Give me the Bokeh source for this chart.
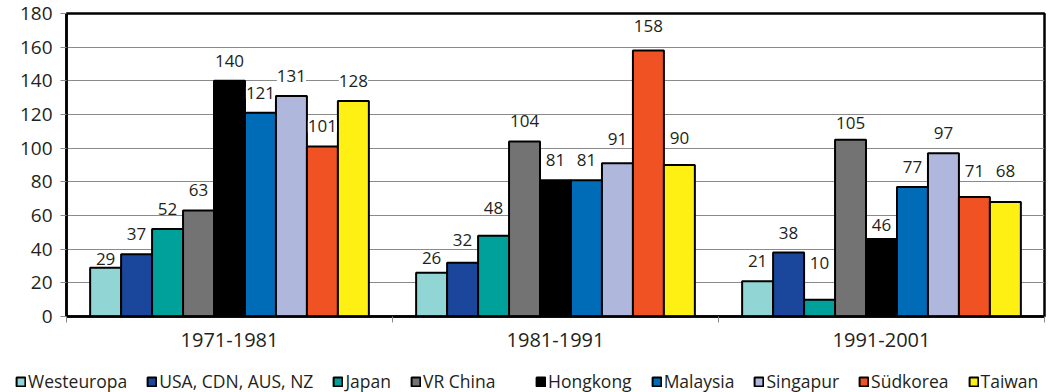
import numpy as np
from bokeh.plotting import figure
from bokeh.layouts import column
from bokeh.core.properties import value
from bokeh.models import ColumnDataSource, FixedTicker, LabelSet, Range1d, Legend
from bokeh.embed import file_html
from bokeh.resources import INLINE

# Periods on the x axis
periods = ["1971-1981", "1981-1991", "1991-2001"]

# Regions / countries (one bar per period each)
countries = ["Westeuropa", "USA, CDN, AUS, NZ", "Japan", "VR China", "Hongkong",
             "Malaysia", "Singapur", "Südkorea", "Taiwan"]

# Values per region, one entry per period
westeuropa = [29, 26, 21]
usa_cdn_aus_nz = [37, 32, 38]
japan = [52, 48, 10]
vr_china = [63, 104, 105]
hongkong = [140, 81, 46]
malaysia = [121, 81, 77]
singapur = [131, 91, 97]
suedkorea = [101, 158, 71]
taiwan = [128, 90, 68]

series = [westeuropa, usa_cdn_aus_nz, japan, vr_china, hongkong,
          malaysia, singapur, suedkorea, taiwan]

colors = ["#92d5d5", "#1a479b", "#00a19a", "#737373", "#000000",
          "#006bb6", "#afb8dc", "#f15223", "#fff014"]

y_ticks = list(range(0, 181, 20))

# Hand-placed value labels: extra lift (px) for crowded spots
label_lift = {
    ("1971-1981", "Westeuropa"): -11,
    ("1981-1991", "Westeuropa"): -5,
    ("1981-1991", "USA, CDN, AUS, NZ"): 3,
    ("1981-1991", "Japan"): 8,
    ("1981-1991", "Singapur"): 4,
    ("1981-1991", "Südkorea"): 5,
    ("1981-1991", "Taiwan"): 7,
    ("1991-2001", "Japan"): 17,
    ("1991-2001", "VR China"): -3,
    ("1991-2001", "Hongkong"): -6,
    ("1991-2001", "Südkorea"): 6,
    ("1991-2001", "Taiwan"): 11,
}

FONT = "Open Sans"
TEXT = "#231f20"
GRID = "#8a8a8a"

p = figure(frame_width=978, frame_height=303,
           x_range=Range1d(0, len(periods)), y_range=Range1d(0, 180),
           output_backend="svg", toolbar_location=None,
           min_border_left=66, min_border_right=12,
           min_border_top=13, min_border_bottom=50)

bar_w = 0.095
n = len(countries)
centers = np.arange(len(periods)) + 0.5

lab_x, lab_y, lab_t, lab_off = [], [], [], []
for i, (name, vals, color) in enumerate(zip(countries, series, colors)):
    offset = (i - (n - 1) / 2) * bar_w
    xs = centers + offset
    src = ColumnDataSource(dict(x=xs, top=vals))
    p.vbar(x="x", top="top", width=bar_w, source=src,
           fill_color=color, line_color="black", line_width=2)
    for per, x, v in zip(periods, xs, vals):
        lab_x.append(x)
        lab_y.append(v)
        lab_t.append(str(v))
        lab_off.append(14 + label_lift.get((per, name), 0))

labels = LabelSet(x="x", y="y", text="text", y_offset="off",
                  source=ColumnDataSource(dict(x=lab_x, y=lab_y, text=lab_t, off=lab_off)),
                  text_align="center", text_baseline="alphabetic",
                  text_font=value(FONT), text_font_size=value("17px"), text_color=TEXT,
                  background_fill_color="white")
p.add_layout(labels)

# x axis: period names centred, tick marks on the group boundaries
p.xaxis.ticker = FixedTicker(ticks=list(centers), minor_ticks=list(range(len(periods) + 1)))
p.xaxis.major_label_overrides = {float(c): per for c, per in zip(centers, periods)}
p.xaxis.major_tick_out = 0
p.xaxis.major_tick_in = 0
p.xaxis.minor_tick_out = 6
p.xaxis.minor_tick_in = 0
p.xaxis.minor_tick_line_color = GRID
p.xaxis.axis_line_color = "black"
p.xaxis.axis_line_width = 2.5
p.xaxis.major_label_text_font = FONT
p.xaxis.major_label_text_font_size = "20px"
p.xaxis.major_label_text_color = TEXT
p.xaxis.major_label_standoff = 10

# y axis
p.yaxis.ticker = FixedTicker(ticks=y_ticks, minor_ticks=[])
p.yaxis.major_tick_out = 6
p.yaxis.major_tick_in = 0
p.yaxis.major_tick_line_color = GRID
p.yaxis.axis_line_color = "black"
p.yaxis.axis_line_width = 2.5
p.yaxis.major_label_text_font = FONT
p.yaxis.major_label_text_font_size = "19px"
p.yaxis.major_label_text_color = TEXT
p.yaxis.major_label_standoff = 8

p.xgrid.visible = False
p.ygrid.ticker = FixedTicker(ticks=y_ticks, minor_ticks=[])
p.ygrid.grid_line_color = GRID
p.ygrid.grid_line_width = 1

p.outline_line_color = "black"
p.outline_line_width = 2.5
p.background_fill_color = "white"
p.border_fill_color = "white"

# Legend strip underneath: swatches styled like the bars
key = figure(frame_width=1056, frame_height=26, x_range=Range1d(0, 1), y_range=Range1d(0, 1),
             output_backend="svg", toolbar_location=None,
             x_axis_type=None, y_axis_type=None, min_border=0)
key.grid.visible = False
key.outline_line_color = None
key.background_fill_color = "white"
key.border_fill_color = "white"

legend_items = []
for name, color in zip(countries, colors):
    # one swatch bar parked outside the visible range, only used for the key
    r = key.vbar(x=[5], top=[1], width=0.1, fill_color=color,
                 line_color="black", line_width=2)
    legend_items.append((name, [r]))

legend_style = dict(orientation="horizontal", border_line_color=None, background_fill_alpha=0,
                    label_text_font=FONT, label_text_font_size="17.5px", label_text_color=TEXT,
                    glyph_width=11, glyph_height=11, label_standoff=2, spacing=19,
                    padding=0, margin=0)
key.add_layout(Legend(items=legend_items[:4], location=(15, -1), **legend_style))
key.add_layout(Legend(items=legend_items[4:], location=(535, -1), **legend_style))

open("out.html", "w").write(file_html(column(p, key, spacing=0), INLINE))
